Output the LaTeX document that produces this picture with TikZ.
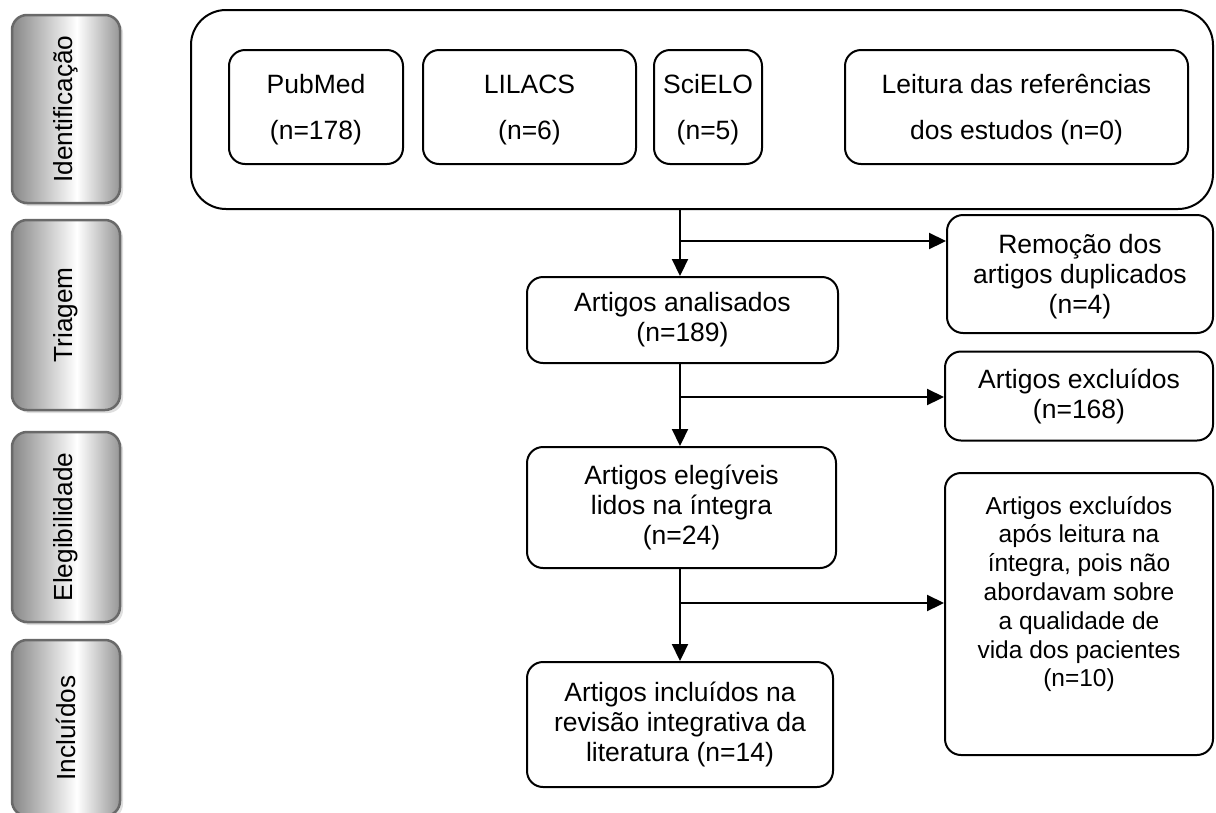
\documentclass[tikz,border=0pt]{standalone}
\usepackage{fontspec}
\usepackage{graphicx}
\setmainfont{Liberation Sans}
\usetikzlibrary{arrows.meta,shadows}
\definecolor{sgA}{RGB}{135,135,135}
\definecolor{sgB}{RGB}{150,150,150}
\definecolor{sgLine}{RGB}{105,105,105}
\pgfdeclarehorizontalshading{stageshade}{100bp}{color(0bp)=(sgA); color(25bp)=(sgA); color(55bp)=(white); color(75bp)=(sgB); color(100bp)=(sgB)}
\begin{document}
\begin{tikzpicture}[x=1pt,y=-1pt,
  stage/.style={draw=sgLine, line width=2.5pt, rounded corners=15pt, shade, shading=stageshade,
    minimum width=108pt, inner sep=0pt,
    drop shadow={shadow xshift=3pt, shadow yshift=-3pt, fill=black!25}},
  box/.style={draw, line width=2pt, rounded corners=16pt, align=center, inner sep=0pt,
    font=\fontsize{26.5pt}{30pt}\selectfont},
  topbox/.style={box, minimum height=114pt, font=\fontsize{26.5pt}{46pt}\selectfont},
  arr/.style={line width=2.2pt, -{Triangle[length=17pt,width=16pt]}}]
\useasboundingbox (0,0) rectangle (1216,812);

% stage boxes
\node[stage, minimum height=188pt] (s1) at (66,109) {\rotatebox{90}{\fontsize{26.2pt}{28pt}\selectfont Identificação}};
\node[stage, minimum height=190pt] (s2) at (66,315) {\rotatebox{90}{\fontsize{26.2pt}{28pt}\selectfont Triagem}};
\node[stage, minimum height=190pt] (s3) at (66,527) {\rotatebox{90}{\fontsize{26.2pt}{28pt}\selectfont Elegibilidade}};
\node[stage, minimum height=176pt] (s4) at (66,728) {\rotatebox{90}{\fontsize{26.2pt}{28pt}\selectfont Incluídos}};

% identification
\node[box, rounded corners=35pt, minimum width=1022pt, minimum height=199pt] (outer) at (702,109.5) {};
\node[topbox, minimum width=174pt] (pub) at (316,107) {\rule{0pt}{24pt}PubMed\\(n=178)};
\node[topbox, minimum width=213pt] (lil) at (529.5,107) {\rule{0pt}{24pt}LILACS\\(n=6)};
\node[topbox, minimum width=108pt] (sci) at (708,107) {\rule{0pt}{24pt}SciELO\\(n=5)};
\node[topbox, minimum width=343pt] (lei) at (1016.5,107) {\rule{0pt}{24pt}Leitura das referências\\dos estudos (n=0)};

% flow boxes
\node[box, minimum width=266pt, minimum height=118pt] (rem) at (1080,274) {\rule{0pt}{24pt}Remoção dos\\artigos duplicados\\(n=4)};
\node[box, minimum width=311pt, minimum height=86pt] (ana) at (682.5,320) {Artigos analisados\\(n=189)};
\node[box, minimum width=268pt, minimum height=89pt] (ex1) at (1079,396) {Artigos excluídos\\(n=168)};
\node[box, minimum width=309pt, minimum height=121pt] (ele) at (681.5,507.5) {Artigos elegíveis\\lidos na íntegra\\(n=24)};
\node[box, minimum width=268pt, minimum height=282pt] (ex2) at (1079,614) {};
\node[align=center, inner sep=0pt, font=\fontsize{24.5pt}{28.8pt}\selectfont] (ex2t) at (1079,594)
  {Artigos excluídos\\após leitura na\\íntegra, pois não\\abordavam sobre\\a qualidade de\\vida dos pacientes\\(n=10)};
\node[box, minimum width=306pt, minimum height=125pt] (inc) at (680,724.5) {Artigos incluídos na\\revisão integrativa da\\literatura (n=14)};

% connectors
\coordinate (v) at (680,0);
\coordinate (b1) at (680,241);
\coordinate (b2) at (680,397);
\coordinate (b3) at (680,603);
\draw[arr] (v |- outer.south) -- (v |- ana.north);
\draw[arr] (b1) -- (b1 -| rem.west);
\draw[arr] (v |- ana.south) -- (v |- ele.north);
\draw[arr] (b2) -- (b2 -| ex1.west);
\draw[arr] (v |- ele.south) -- (v |- inc.north);
\draw[arr] (b3) -- (b3 -| ex2.west);
\end{tikzpicture}
\end{document}
